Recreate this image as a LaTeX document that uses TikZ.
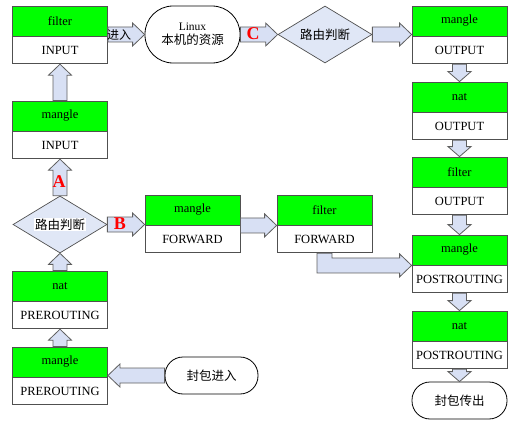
\documentclass[tikz,border=0pt]{standalone}
\usepackage{fontspec}
\setmainfont{Liberation Serif}
\newfontfamily\latin{Liberation Serif}
\newfontfamily\cjk{Noto Sans CJK SC}
\usetikzlibrary{calc,shapes.geometric}
\definecolor{boxgreen}{RGB}{0,255,0}
\definecolor{boxline}{RGB}{80,80,80}
\definecolor{arrowfill}{RGB}{216,224,244}
\definecolor{arrowline}{RGB}{95,95,95}
\definecolor{diafill}{RGB}{224,231,246}
\newcommand\latf{\latin\fontsize{12.5}{14}\selectfont}
\newcommand\zhf{\cjk\fontsize{12.5}{14}\selectfont}
\tikzset{
  gpart/.style={draw=boxline, line width=0.8pt, fill=boxgreen, minimum width=95pt, minimum height=30pt, inner sep=0pt, font=\latf},
  wpart/.style={draw=boxline, line width=0.8pt, fill=white, minimum width=95pt, minimum height=27pt, inner sep=0pt, font=\latf, anchor=north},
  dia/.style={diamond, draw=boxline, line width=0.7pt, fill=diafill, aspect=1.65, minimum width=94pt, minimum height=57pt, inner sep=0pt, font=\zhf},
  term/.style={draw=black, line width=0.8pt, fill=white, rounded corners=#1, inner sep=0pt, font=\zhf, align=center},
  barrow/.style={draw=arrowline, line width=0.8pt, fill=arrowfill, line join=miter},
  redlab/.style={text=red, font=\latin\fontsize{18}{18}\bfseries\selectfont, inner sep=0pt},
}
\newcommand\arrU[2]{\draw[barrow] let \p1=(#1), \p2=(#2) in
  (\x1-7pt,\y1) -- (\x1-7pt,\y2-11pt) -- (\x1-11.5pt,\y2-11pt) -- (\x1,\y2) -- (\x1+11.5pt,\y2-11pt) -- (\x1+7pt,\y2-11pt) -- (\x1+7pt,\y1) -- cycle;}
\newcommand\arrD[2]{\draw[barrow] let \p1=(#1), \p2=(#2) in
  (\x1-7pt,\y1) -- (\x1-7pt,\y2+10pt) -- (\x1-11.5pt,\y2+10pt) -- (\x1,\y2) -- (\x1+11.5pt,\y2+10pt) -- (\x1+7pt,\y2+10pt) -- (\x1+7pt,\y1) -- cycle;}
\newcommand\arrR[2]{\draw[barrow] let \p1=(#1), \p2=(#2) in
  (\x1,\y1+7.5pt) -- (\x2-12pt,\y1+7.5pt) -- (\x2-12pt,\y1+11.5pt) -- (\x2,\y1) -- (\x2-12pt,\y1-11.5pt) -- (\x2-12pt,\y1-7.5pt) -- (\x1,\y1-7.5pt) -- cycle;}
\newcommand\arrL[2]{\draw[barrow] let \p1=(#1), \p2=(#2) in
  (\x1,\y1+7.5pt) -- (\x2+12pt,\y1+7.5pt) -- (\x2+12pt,\y1+11.5pt) -- (\x2,\y1) -- (\x2+12pt,\y1-11.5pt) -- (\x2+12pt,\y1-7.5pt) -- (\x1,\y1-7.5pt) -- cycle;}
\begin{document}
\begin{tikzpicture}[x=1pt,y=-1pt]
\useasboundingbox (0,0) rectangle (520,428);
% left column
\node[gpart] (fi) at (60,21) {filter};
\node[wpart] (fiw) at (fi.south) {INPUT};
\node[gpart] (mi) at (60,116) {mangle};
\node[wpart] (miw) at (mi.south) {INPUT};
\node[dia] (rd1) at (60,224.5) {};
\node[fill=white, inner sep=1pt, font=\zhf] (rd1t) at (rd1) {路由判断};
\node[gpart] (npre) at (60,286) {nat};
\node[wpart] (nprew) at (npre.south) {PREROUTING};
\node[gpart] (mpre) at (60,362) {mangle};
\node[wpart] (mprew) at (mpre.south) {PREROUTING};
% middle
\node[term=28pt, minimum width=95pt, minimum height=57pt] (lin) at (192.5,34.5) {{\latin\fontsize{11.5}{14}\selectfont Linux}\\本机的资源};
\node[dia] (rd2) at (325,34.5) {路由判断};
\node[gpart] (mf) at (192.5,210) {mangle};
\node[wpart] (mfw) at (mf.south) {FORWARD};
\node[gpart] (ff) at (324.5,210) {filter};
\node[wpart] (ffw) at (ff.south) {FORWARD};
\node[term=18pt, minimum width=93pt, minimum height=37pt] (pin) at (211.5,375.5) {封包进入};
% right column
\node[gpart] (mo) at (459.5,21) {mangle};
\node[wpart] (mow) at (mo.south) {OUTPUT};
\node[gpart] (no) at (459.5,97) {nat};
\node[wpart] (now) at (no.south) {OUTPUT};
\node[gpart] (fo) at (459.5,172) {filter};
\node[wpart] (fow) at (fo.south) {OUTPUT};
\node[gpart] (mp) at (459.5,250) {mangle};
\node[wpart] (mpw) at (mp.south) {POSTROUTING};
\node[gpart] (np) at (459.5,326) {nat};
\node[wpart] (npw) at (np.south) {POSTROUTING};
\node[term=18pt, minimum width=95pt, minimum height=37pt] (pout) at (459.5,400.5) {封包传出};
% arrows
\arrU{mpre.north}{nprew.south}
\arrU{npre.north}{rd1.south}
\arrU{rd1.north}{miw.south}
\arrU{mi.north}{fiw.south}
\arrR{fi.east |- lin.west}{lin.west}
\arrR{lin.east}{rd2.west}
\arrR{rd2.east}{mo.west |- rd2.east}
\arrR{rd1.east}{mf.west |- rd1.east}
\arrR{mf.south east}{ff.south west}
\arrL{pin.west}{mpre.south east |- pin.west}
\arrD{mow.south}{no.north}
\arrD{now.south}{fo.north}
\arrD{fow.south}{mp.north}
\arrD{mpw.south}{np.north}
\arrD{npw.south}{pout.north}
\draw[barrow] let \p1=(ffw.south), \p2=(mp.south west) in
  (\x1-7.5pt,\y1) -- (\x1-7.5pt,\y2-7.5pt) -- (\x2-12pt,\y2-7.5pt) -- (\x2-12pt,\y2-11.5pt) -- (\x2,\y2) -- (\x2-12pt,\y2+11.5pt) -- (\x2-12pt,\y2+7.5pt) -- (\x1+7.5pt,\y2+7.5pt) -- (\x1+7.5pt,\y1) -- cycle;
% labels
\node[inner sep=0pt, font=\cjk\fontsize{12}{14}\selectfont] (jr) at (119,35) {进入};
\node[redlab] (la) at (59,182) {A};
\node[redlab] (lb) at (120,224) {B};
\node[redlab] (lc) at (253,34) {C};
\end{tikzpicture}
\end{document}
